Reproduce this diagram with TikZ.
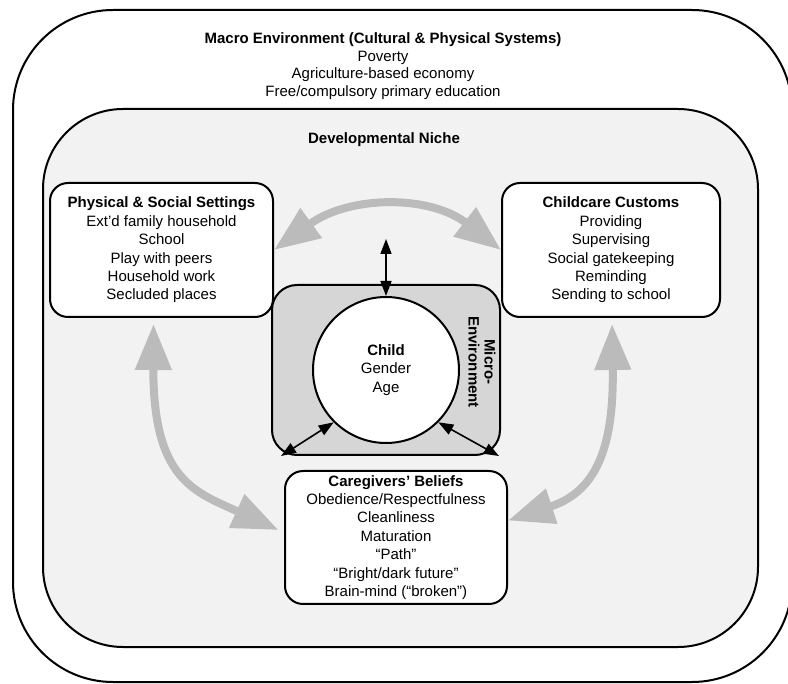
\documentclass[tikz,border=0pt]{standalone}
\usepackage{fontspec}
\setmainfont{Liberation Sans}
\usetikzlibrary{arrows.meta}
\definecolor{nichegray}{HTML}{F2F2F2}
\definecolor{microgray}{HTML}{D6D6D6}
\definecolor{linkgray}{HTML}{BBBBBB}
\begin{document}
\begin{tikzpicture}[x=1pt,y=-1pt,headtext/.style={align=center,font=\fontsize{15}{17.7}\selectfont},settingbox/.style={shape=rectangle,rounded corners=18,draw=black,line width=2,fill=white,minimum width=223,minimum height=134,align=center,font=\fontsize{15}{18.4}\selectfont},microbox/.style={shape=rectangle,rounded corners=25,draw=black,line width=2,fill=microgray,minimum width=228,minimum height=170},childdisc/.style={shape=circle,draw=black,line width=2,fill=white,minimum size=146,inner sep=0,align=center,font=\fontsize{15}{18.5}\selectfont},microlabel/.style={rotate=-90,align=center,font=\fontsize{15}{16}\selectfont\bfseries},linkarrow/.style={draw=linkgray,line width=8,>={Triangle[length=46pt,width=35pt]},<->},tiearrow/.style={draw=black,line width=1.6,>={Triangle[length=15pt,width=11pt]},<->}]
\useasboundingbox (0,0) rectangle (788,684);
\draw[line width=2,rounded corners=100] (13,10) rectangle (792,682);
\draw[line width=2,fill=nichegray,rounded corners=80] (43,109) rectangle (758,647);
\node[headtext] (macro) at (383,66) {\textbf{Macro Environment (Cultural \& Physical Systems)}\\Poverty\\Agriculture-based economy\\Free/compulsory primary education};
\node[headtext] (niche) at (384,140) {\textbf{Developmental Niche}};
\node[settingbox] (PS) at (161.5,250) {\textbf{Physical \& Social Settings}\\Ext’d family household\\School\\Play with peers\\Household work\\Secluded places};
\node[settingbox,minimum width=218] (CC) at (611,250) {\textbf{Childcare Customs}\\Providing\\Supervising\\Social gatekeeping\\Reminding\\Sending to school};
\node[settingbox,minimum width=222,minimum height=133] (CB) at (396,537.5) {\textbf{Caregivers’ Beliefs}\\Obedience/Respectfulness\\Cleanliness\\Maturation\\“Path”\\“Bright/dark future”\\Brain-mind (“broken”)};
\node[microbox] (ME) at (386,370) {};
\node[childdisc] (C) at (386,370) {\textbf{Child}\\Gender\\Age};
\node[microlabel] (MEL) at (482,362) {Micro-\\Environment};
\coordinate (up) at (386,239);
\draw[tiearrow] (up) -- (C);
\draw[tiearrow] (C.225) -- ([xshift=10]ME.south west);
\draw[tiearrow] (C.-45) -- ([xshift=-2]ME.south east);
\draw[linkarrow] (PS.east) .. controls (350,195) and (430,195) .. (CC.west);
\draw[linkarrow,shorten <=6,shorten >=6] ([xshift=-8]PS.south) .. controls (153,480) and (195,492) .. ([yshift=5]CB.west);
\draw[linkarrow,shorten <=6] ([xshift=1]CC.south) .. controls (614,450) and (595,492) .. ([yshift=17]CB.east);
\end{tikzpicture}
\end{document}
